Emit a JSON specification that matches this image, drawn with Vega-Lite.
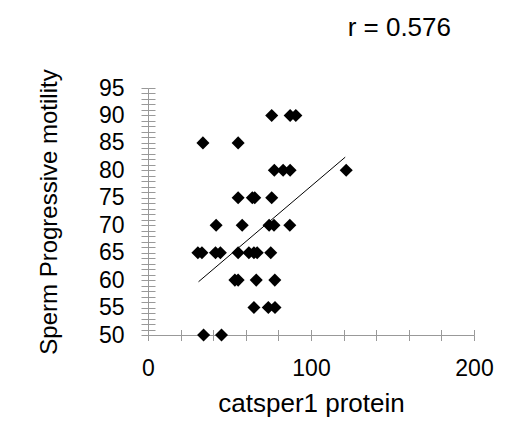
{
  "$schema": "https://vega.github.io/schema/vega-lite/v6.json",
  "width": 326,
  "height": 247,
  "autosize": {"type": "none"},
  "padding": {"left": 148, "top": 88, "right": 32, "bottom": 91},
  "background": "white",
  "config": {
    "view": {"stroke": null},
    "font": "Liberation Sans"
  },
  "title": {
    "text": "r = 0.576",
    "anchor": "end",
    "frame": "group",
    "fontSize": 26,
    "fontWeight": "normal",
    "font": "Liberation Sans",
    "color": "black",
    "baseline": "alphabetic",
    "dx": -23,
    "offset": 7
  },
  "datasets": {
    "points": [
      {"protein": 75.9, "motility": 90},
      {"protein": 87.2, "motility": 90},
      {"protein": 90.7, "motility": 90},
      {"protein": 33.7, "motility": 85},
      {"protein": 55.3, "motility": 85},
      {"protein": 77.5, "motility": 80},
      {"protein": 82.9, "motility": 80},
      {"protein": 87.2, "motility": 80},
      {"protein": 121.6, "motility": 80},
      {"protein": 55.3, "motility": 75},
      {"protein": 64.0, "motility": 75},
      {"protein": 65.5, "motility": 75},
      {"protein": 75.9, "motility": 75},
      {"protein": 41.8, "motility": 70},
      {"protein": 57.8, "motility": 70},
      {"protein": 74.3, "motility": 70},
      {"protein": 77.3, "motility": 70},
      {"protein": 87.0, "motility": 70},
      {"protein": 30.6, "motility": 65},
      {"protein": 33.1, "motility": 65},
      {"protein": 41.4, "motility": 65},
      {"protein": 44.4, "motility": 65},
      {"protein": 55.3, "motility": 65},
      {"protein": 61.9, "motility": 65},
      {"protein": 65.0, "motility": 65},
      {"protein": 67.0, "motility": 65},
      {"protein": 75.3, "motility": 65},
      {"protein": 53.3, "motility": 60},
      {"protein": 55.3, "motility": 60},
      {"protein": 66.4, "motility": 60},
      {"protein": 77.8, "motility": 60},
      {"protein": 65.0, "motility": 55},
      {"protein": 73.8, "motility": 55},
      {"protein": 77.9, "motility": 55},
      {"protein": 34.1, "motility": 50},
      {"protein": 45.1, "motility": 50}
    ],
    "trend": [
      {"protein": 31, "motility": 59.7},
      {"protein": 121, "motility": 82.4}
    ]
  },
  "resolve": {"axis": {"x": "independent", "y": "independent"}},
  "layer": [
    {
      "data": {"name": "points"},
      "mark": {"type": "point", "shape": "diamond", "filled": true, "color": "black", "opacity": 1, "size": 170},
      "encoding": {
        "x": {
          "field": "protein", "type": "quantitative",
          "scale": {"domain": [0, 200], "nice": false, "zero": false},
          "axis": {
            "orient": "bottom",
            "values": [0, 20, 40, 60, 80, 100, 120, 140, 160, 180, 200],
            "labelExpr": "datum.value % 100 === 0 ? datum.label : ''",
            "grid": false,
            "domainColor": "#999999",
            "tickColor": "#999999",
            "tickSize": 5.5,
            "labelFontSize": 23,
            "labelColor": "black",
            "labelFlush": false,
            "labelOverlap": false,
            "labelPadding": 17,
            "title": "catsper1 protein",
            "titleFontSize": 26,
            "titleFontWeight": "normal",
            "titleColor": "black",
            "titlePadding": 10
          }
        },
        "y": {
          "field": "motility", "type": "quantitative",
          "scale": {"domain": [50, 95], "nice": false, "zero": false},
          "axis": {
            "orient": "left",
            "values": [50, 51, 52, 53, 54, 55, 56, 57, 58, 59, 60, 61, 62, 63, 64, 65, 66, 67, 68, 69, 70, 71, 72, 73, 74, 75, 76, 77, 78, 79, 80, 81, 82, 83, 84, 85, 86, 87, 88, 89, 90, 91, 92, 93, 94, 95],
            "labelExpr": "datum.value % 5 === 0 ? datum.label : ''",
            "grid": false,
            "domainColor": "#999999",
            "tickColor": "#999999",
            "tickSize": 7,
            "labelFontSize": 23,
            "labelColor": "black",
            "labelFlush": false,
            "labelOverlap": false,
            "labelPadding": 17,
            "title": "Sperm Progressive motility",
            "titleFontSize": 24,
            "titleFontWeight": "normal",
            "titleColor": "black",
            "titlePadding": 37
          }
        }
      }
    },
    {
      "data": {"name": "trend"},
      "mark": {"type": "line", "color": "black", "strokeWidth": 1},
      "encoding": {
        "x": {
          "field": "protein", "type": "quantitative",
          "axis": {
            "orient": "top",
            "offset": -247,
            "values": [0, 20, 40, 60, 80, 100, 120, 140, 160, 180, 200],
            "labels": false,
            "domain": false,
            "grid": false,
            "tickColor": "#999999",
            "tickSize": 5.5,
            "title": null
          }
        },
        "y": {
          "field": "motility", "type": "quantitative",
          "axis": {
            "orient": "right",
            "offset": -326,
            "values": [50, 51, 52, 53, 54, 55, 56, 57, 58, 59, 60, 61, 62, 63, 64, 65, 66, 67, 68, 69, 70, 71, 72, 73, 74, 75, 76, 77, 78, 79, 80, 81, 82, 83, 84, 85, 86, 87, 88, 89, 90, 91, 92, 93, 94, 95],
            "labels": false,
            "domain": false,
            "grid": false,
            "tickColor": "#999999",
            "tickSize": 7,
            "title": null
          }
        }
      }
    }
  ]
}
